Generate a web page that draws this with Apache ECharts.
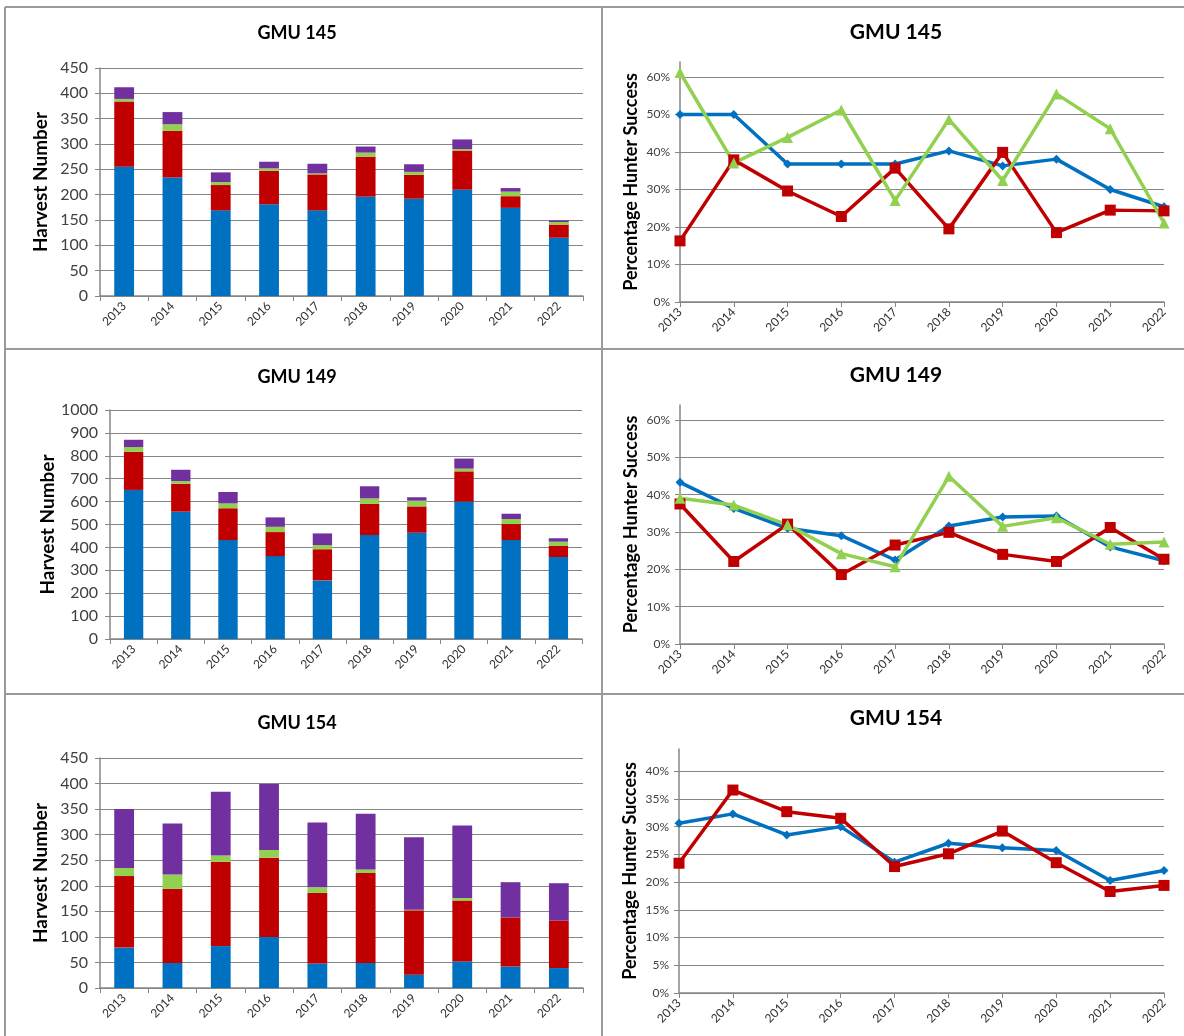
<!DOCTYPE html>
<html><head><meta charset="utf-8">
<script src="https://cdn.jsdelivr.net/npm/echarts@6/dist/echarts.min.js"></script>
<style>html,body{margin:0;padding:0;background:#fff}#c{width:1184px;height:1036px}</style>
</head><body><div id="c"></div><script>
// ---------- DATA ----------
const years = ['2013','2014','2015','2016','2017','2018','2019','2020','2021','2022'];

// GMU 145 harvest (stacked)
const h145Blue   = [255, 234, 169, 181, 169, 196, 192, 210, 174, 115];
const h145Red    = [129,  92,  50,  66,  71,  79,  47,  77,  23,  26];
const h145Green  = [  5,  13,   6,   5,   2,   8,   6,   3,   9,   5];
const h145Purple = [ 23,  24,  19,  13,  19,  12,  15,  19,   7,   3];

// GMU 149 harvest (stacked)
const h149Blue   = [651, 556, 432, 362, 256, 454, 464, 600, 432, 358];
const h149Red    = [166, 122, 139, 105, 136, 136, 115, 132,  70,  48];
const h149Green  = [ 21,  12,  21,  23,  18,  24,  25,  12,  22,  19];
const h149Purple = [ 32,  49,  50,  41,  51,  53,  15,  44,  23,  15];

// GMU 154 harvest (stacked)
const h154Blue   = [ 79,  49,  82, 100,  48,  49,  26,  52,  42,  39];
const h154Red    = [140, 145, 165, 155, 138, 176, 126, 119,  96,  93];
const h154Green  = [ 16,  28,  12,  15,  11,   7,   1,   5,   0,   0];
const h154Purple = [115, 100, 125, 129, 127, 109, 142, 142,  69,  73];

// Hunter success (fractions)
const s145Blue  = [0.500, 0.500, 0.368, 0.368, 0.368, 0.403, 0.363, 0.381, 0.300, 0.254];
const s145Red   = [0.163, 0.379, 0.296, 0.228, 0.357, 0.195, 0.399, 0.185, 0.245, 0.243];
const s145Green = [0.612, 0.371, 0.439, 0.512, 0.271, 0.487, 0.324, 0.555, 0.462, 0.211];

const s149Blue  = [0.433, 0.363, 0.310, 0.290, 0.225, 0.316, 0.340, 0.343, 0.260, 0.223];
const s149Red   = [0.375, 0.221, 0.321, 0.186, 0.265, 0.299, 0.240, 0.221, 0.312, 0.227];
const s149Green = [0.390, 0.372, 0.319, 0.242, 0.207, 0.449, 0.315, 0.338, 0.267, 0.273];

const s154Blue  = [0.306, 0.323, 0.285, 0.300, 0.236, 0.270, 0.262, 0.257, 0.203, 0.221];
const s154Red   = [0.234, 0.366, 0.327, 0.315, 0.228, 0.251, 0.292, 0.235, 0.183, 0.194];

// ---------- STYLE ----------
const FONT = 'Lato, "Open Sans", sans-serif';
const C_BLUE = '#0070C0', C_RED = '#C00000', C_GREEN = '#92D050', C_PURPLE = '#7030A0';
const GRID_C = '#868686', TXT = '#404040';

const grids = [
  {left:100, top:68,  width:483, height:228},  // bars 145
  {left:680, top:62,  width:484, height:240},  // line 145
  {left:110, top:410, width:472, height:229},  // bars 149
  {left:680, top:405, width:484, height:239},  // line 149
  {left:100, top:758, width:483, height:230},  // bars 154
  {left:679, top:749, width:485, height:244}   // line 154
];

function barX(gi){
  return {type:'category', gridIndex:gi, data:years, boundaryGap:true,
    axisLine:{lineStyle:{color:GRID_C,width:1.5}},
    axisTick:{show:true, length:5, lineStyle:{color:GRID_C}},
    axisLabel:{rotate:45, fontSize:12, color:'#303030', fontFamily:FONT, margin:8}};
}
function barY(gi, max, interval){
  return {type:'value', gridIndex:gi, min:0, max:max, interval:interval,
    name:'Harvest Number', nameLocation:'middle', nameGap:50,
    nameTextStyle:{fontSize:19, fontWeight:'bold', color:'#000', fontFamily:FONT},
    axisLine:{show:true, lineStyle:{color:GRID_C,width:1.5}},
    axisTick:{show:true, length:5, lineStyle:{color:GRID_C}},
    axisLabel:{fontSize:16, color:TXT, fontFamily:FONT, margin:12, formatter:v => String(v)},
    splitLine:{show:true, lineStyle:{color:GRID_C,width:1.2}}};
}
function lineX(gi){
  return {type:'category', gridIndex:gi, data:years, boundaryGap:false,
    axisLine:{lineStyle:{color:GRID_C,width:1.5}},
    axisTick:{show:true, length:5, alignWithLabel:true, lineStyle:{color:GRID_C}},
    axisLabel:{rotate:45, fontSize:12, color:'#303030', fontFamily:FONT, margin:8}};
}
function lineY(gi, max, interval, top){
  const ticks = [];
  for (let v = 0; v <= top + 1e-9; v += interval) ticks.push(+v.toFixed(4));
  return {type:'value', gridIndex:gi, min:0, max:max, interval:interval,
    name:'Percentage Hunter Success', nameLocation:'middle', nameGap:40,
    nameTextStyle:{fontSize:18, fontWeight:'bold', color:'#000', fontFamily:FONT},
    axisLine:{show:true, lineStyle:{color:GRID_C,width:1.5}},
    axisTick:{show:true, length:5, lineStyle:{color:GRID_C}, customValues:ticks},
    axisLabel:{fontSize:12, color:TXT, fontFamily:FONT, margin:10,
      customValues:ticks, formatter:v => Math.round(v*100)+'%'},
    splitLine:{show:true, lineStyle:{color:GRID_C,width:1.2}}};
}

function bars(gi, arrs){
  const cols = [C_BLUE, C_RED, C_GREEN, C_PURPLE];
  const names = ['Blue','Red','Green','Purple'];
  return arrs.map((a,i)=>({type:'bar', name:names[i], xAxisIndex:gi, yAxisIndex:gi,
    stack:'s'+gi, data:a, barWidth:'41%', itemStyle:{color:cols[i]}}));
}
function lines(gi, arrs){
  const cols = [C_BLUE, C_RED, C_GREEN];
  const syms = ['diamond','rect','triangle'];
  const sizes = [9, 11, 11];
  const names = ['Blue','Red','Green'];
  return arrs.map((a,i)=>({type:'line', name:names[i], xAxisIndex:gi, yAxisIndex:gi,
    data:a, symbol:syms[i], symbolSize:sizes[i], showAllSymbol:true,
    lineStyle:{color:cols[i], width:3.5}, itemStyle:{color:cols[i]}}));
}

const titleDefs = [
  ['GMU 145', 297, 33, 18], ['GMU 145', 896, 32, 21],
  ['GMU 149', 297, 377, 18], ['GMU 149', 896, 375, 21],
  ['GMU 154', 297, 723, 18], ['GMU 154', 896, 718, 21]
];

const B = '#9a9a9a';
const graphic = [
  {type:'line', shape:{x1:5,y1:7,x2:5,y2:1036}, style:{stroke:B,lineWidth:2}},
  {type:'line', shape:{x1:5,y1:7,x2:1184,y2:7}, style:{stroke:B,lineWidth:2}},
  {type:'line', shape:{x1:602,y1:7,x2:602,y2:1036}, style:{stroke:B,lineWidth:2}},
  {type:'line', shape:{x1:5,y1:349,x2:1184,y2:349}, style:{stroke:B,lineWidth:2}},
  {type:'line', shape:{x1:5,y1:694,x2:1184,y2:694}, style:{stroke:B,lineWidth:2}}
].concat(titleDefs.map(t=>({type:'text', x:t[1], y:t[2],
  style:{text:t[0], textAlign:'center', textVerticalAlign:'middle',
    font:'bold '+t[3]+'px '+FONT, fill:'#000'}})));

const option = {
  backgroundColor:'#fff',
  animation:false,
  grid: grids,
  xAxis:[barX(0), lineX(1), barX(2), lineX(3), barX(4), lineX(5)],
  yAxis:[barY(0,450,50), lineY(1,0.64,0.1,0.6), barY(2,1000,100), lineY(3,0.64,0.1,0.6),
         barY(4,450,50), lineY(5,0.44,0.05,0.4)],
  series:[].concat(
    bars(0,[h145Blue,h145Red,h145Green,h145Purple]),
    lines(1,[s145Blue,s145Red,s145Green]),
    bars(2,[h149Blue,h149Red,h149Green,h149Purple]),
    lines(3,[s149Blue,s149Red,s149Green]),
    bars(4,[h154Blue,h154Red,h154Green,h154Purple]),
    lines(5,[s154Blue,s154Red])
  ),
  graphic: graphic
};
const chart = echarts.init(document.getElementById('c'), null, {renderer:'canvas'});
chart.setOption(option);
</script></body></html>
